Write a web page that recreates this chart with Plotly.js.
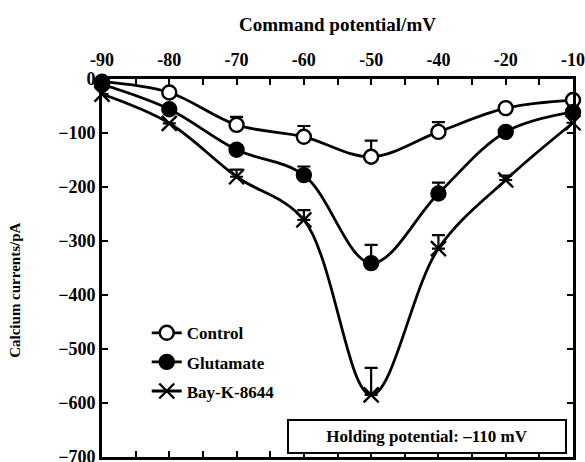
<!DOCTYPE html>
<html>
<head>
<meta charset="utf-8">
<script src="https://cdn.plot.ly/plotly-3.0.1.min.js"></script>
<style>html,body{margin:0;padding:0;background:#fff;}#chart{width:585px;height:462px;}</style>
</head>
<body>
<div id="chart"></div>
<script>
const categories = ['-90', '-80', '-70', '-60', '-50', '-40', '-20', '-10'];
const control = [-5, -25, -85, -107, -144, -98, -54, -39];
const controlErr = [0, 4, 15, 20, 30, 18, 0, 0];
const glutamate = [-10, -56, -131, -178, -341, -212, -98, -61];
const glutamateErr = [0, 0, 8, 16, 34, 20, 0, 0];
const bayK = [-28, -82, -181, -261, -585, -314, -187, -81];
const bayKErr = [0, 0, 13, 18, 50, 25, 8, 0];
const seriesNames = ['Control', 'Glutamate', 'Bay-K-8644'];

const xIdx = categories.map((_, i) => i);
const zeros = categories.map(() => 0);
const FONT = 'Liberation Serif, Times New Roman, serif';

function trace(name, y, err, symbol, fill, group) {
  return {
    x: xIdx, y: y, name: name, type: 'scatter', mode: 'lines+markers',
    legendgroup: group,
    cliponaxis: false,
    line: {color: '#000', width: 2.8, shape: 'spline', smoothing: 1},
    marker: {symbol: symbol, size: symbol === 'x-thin-open' ? 15 : 14, color: fill,
             line: {color: '#000', width: 2.4}},
    error_y: {type: 'data', symmetric: false, array: err, arrayminus: zeros, color: '#000', thickness: 2.2, width: 6.5}
  };
}

const data = [
  trace(seriesNames[0], control, controlErr, 'circle', '#fff', 'a'),
  trace(seriesNames[1], glutamate, glutamateErr, 'circle', '#000', 'b'),
  trace(seriesNames[2], bayK, bayKErr, 'x-thin-open', '#000', 'c')
];

const layout = {
  width: 585, height: 462,
  margin: {l: 102, r: 12, t: 79, b: 5},
  paper_bgcolor: '#fff', plot_bgcolor: '#fff',
  font: {family: FONT, color: '#000', size: 17},
  showlegend: true,
  legend: {x: 0.095, y: 0.375, xanchor: 'left', yanchor: 'top', bgcolor: 'rgba(0,0,0,0)',
           font: {family: FONT, size: 17, weight: 'bold'}, tracegroupgap: 4},
  xaxis: {
    side: 'top', range: [0, 7], tickvals: xIdx, ticktext: categories,
    ticks: 'inside', ticklen: 6, tickwidth: 2, tickcolor: '#000',
    minor: {dtick: 0.5, tick0: 0, ticks: 'inside', ticklen: 6, tickwidth: 2, tickcolor: '#000'},
    showline: true, linewidth: 2.8, linecolor: '#000', mirror: 'ticks',
    showgrid: false, zeroline: false, ticklabeloverflow: 'allow', ticklabelstandoff: 3,
    tickfont: {family: FONT, size: 18, weight: 'bold'},
    title: {text: 'Command potential/mV', font: {family: FONT, size: 19, weight: 'bold'}, standoff: 14}
  },
  yaxis: {
    range: [-700, 0], dtick: 100, tick0: 0,
    ticks: 'inside', ticklen: 6, tickwidth: 2, tickcolor: '#000',
    showline: true, linewidth: 2.8, linecolor: '#000', mirror: 'ticks',
    showgrid: false, zeroline: false, ticklabeloverflow: 'allow',
    tickfont: {family: FONT, size: 18, weight: 'bold'}
  },
  annotations: [{
    xref: 'paper', yref: 'paper', x: -0.185, y: 0.442, xanchor: 'center', yanchor: 'middle',
    text: 'Calcium currents/pA', textangle: -90, showarrow: false,
    font: {family: FONT, size: 15, weight: 'bold'}
  }, {
    xref: 'paper', yref: 'paper', x: 0.69, y: 0.055, xanchor: 'center', yanchor: 'middle',
    text: 'Holding potential: \u2013110 mV', showarrow: false,
    font: {family: FONT, size: 17, weight: 'bold'},
    bordercolor: '#000', borderwidth: 2, borderpad: 6, bgcolor: '#fff', width: 264
  }]
};

Plotly.newPlot('chart', data, layout, {displayModeBar: false, staticPlot: true});
</script>
</body>
</html>
